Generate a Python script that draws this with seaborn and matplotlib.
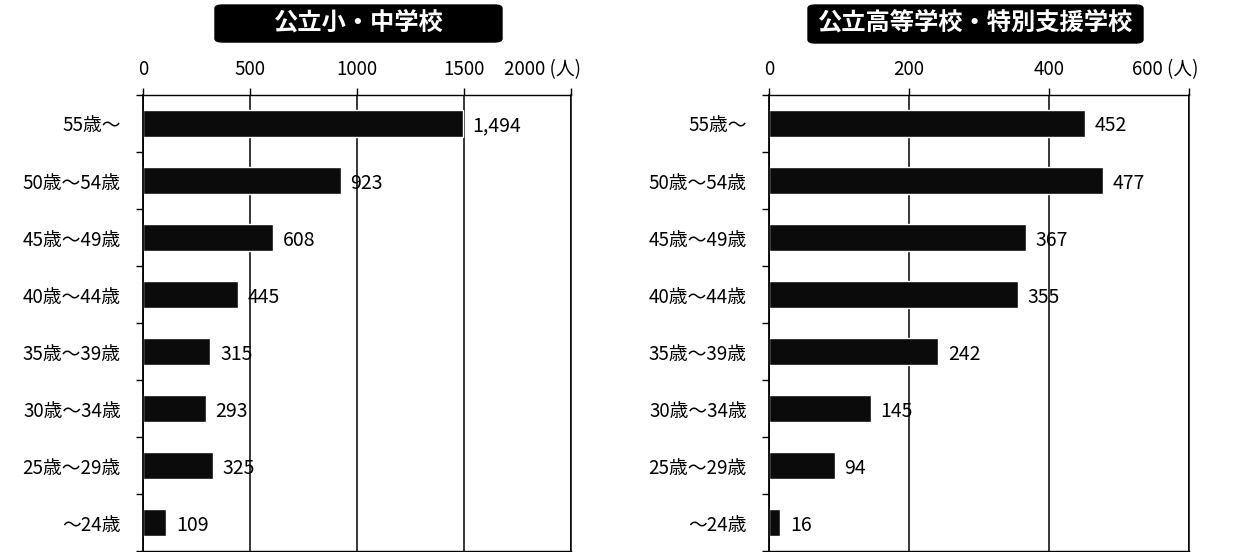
import seaborn as sns
import matplotlib.pyplot as plt
from matplotlib.patches import FancyBboxPatch
from matplotlib.ticker import FixedLocator
import numpy as np

# データ
age_groups = ['55歳～', '50歳～54歳', '45歳～49歳', '40歳～44歳',
              '35歳～39歳', '30歳～34歳', '25歳～29歳', '～24歳']
elem_values = [1494, 923, 608, 445, 315, 293, 325, 109]
high_values = [452, 477, 367, 355, 242, 145, 94, 16]
elem_ticks = [0, 500, 1000, 1500, 2000]
high_ticks = [0, 200, 400, 600]
elem_title = '公立小・中学校'
high_title = '公立高等学校・特別支援学校'
unit = '(人)'

sns.set_style("white")
plt.rcParams['font.family'] = ['Noto Sans CJK JP', 'DejaVu Sans']
plt.rcParams['text.color'] = 'black'
plt.rcParams['xtick.color'] = 'black'
plt.rcParams['ytick.color'] = 'black'
plt.rcParams['axes.labelcolor'] = 'black'

BAR = '#0b0b0b'
FS = 13.5
FS_VAL = 14


def draw_panel(fig, rect, values, ticks, title, box):
    ax = fig.add_axes(rect)
    sns.barplot(x=values, y=age_groups, orient='h', color=BAR, width=0.49,
                saturation=1, ax=ax)
    n = len(age_groups)
    ax.set_ylim(n - 0.5, -0.5)
    ax.set_xlim(ticks[0], ticks[-1])

    # 目盛りは上側
    ax.xaxis.tick_top()
    ax.set_xticks(ticks)
    ax.set_xticklabels([str(t) for t in ticks[:-1]] + [''])
    ax.tick_params(axis='x', direction='out', length=5, width=1, pad=6,
                   labelsize=FS, colors='black')
    ax.xaxis.grid(True, color='black', linewidth=1.1)
    ax.set_axisbelow(True)

    # 最後の目盛りに単位を付ける
    ax.annotate(f'{ticks[-1]} {unit}', xy=(ticks[-1], 1), xycoords=('data', 'axes fraction'),
                xytext=(7, 11), textcoords='offset points', ha='right', va='bottom',
                fontsize=FS, color='black', annotation_clip=False)

    ax.tick_params(axis='y', which='major', length=0, pad=16, labelsize=FS,
                   labelcolor='black')
    ax.yaxis.set_minor_locator(FixedLocator(np.arange(-0.5, n, 1.0)))
    ax.tick_params(axis='y', which='minor', direction='out', length=5, width=1,
                   color='black', left=True)

    for s in ['top', 'left', 'bottom', 'right']:
        ax.spines[s].set_visible(True)
        ax.spines[s].set_color('black')
    ax.spines['left'].set_linewidth(1.3)
    ax.spines['top'].set_linewidth(1.0)
    ax.spines['bottom'].set_linewidth(1.0)
    ax.spines['right'].set_linewidth(1.1)

    ax.set_xlabel('')
    ax.set_ylabel('')

    for i, v in enumerate(values):
        ax.annotate(f'{v:,}', xy=(v, i), xytext=(7, 0), textcoords='offset points',
                    ha='left', va='center_baseline', fontsize=FS_VAL, color='black')

    # タイトル(黒地に白文字)
    x0, y0, w, h = box
    fig.patches.append(FancyBboxPatch((x0, y0), w, h, transform=fig.transFigure,
                                      boxstyle='round,pad=0,rounding_size=0.006',
                                      facecolor='black', edgecolor='black'))
    fig.text(x0 + w / 2, y0 + h / 2, title, color='white', fontsize=17.5,
             fontweight='bold', ha='center', va='center')
    return ax


fig = plt.figure(figsize=(12.5, 5.52), dpi=100)

draw_panel(fig, [0.1144, 0.0018, 0.3424, 0.8261], elem_values, elem_ticks,
           elem_title, (0.172, 0.9239, 0.2296, 0.067))
draw_panel(fig, [0.6152, 0.0018, 0.336, 0.8261], high_values, high_ticks,
           high_title, (0.6464, 0.9221, 0.268, 0.0688))

plt.savefig('out.png', dpi=100)
plt.close()
